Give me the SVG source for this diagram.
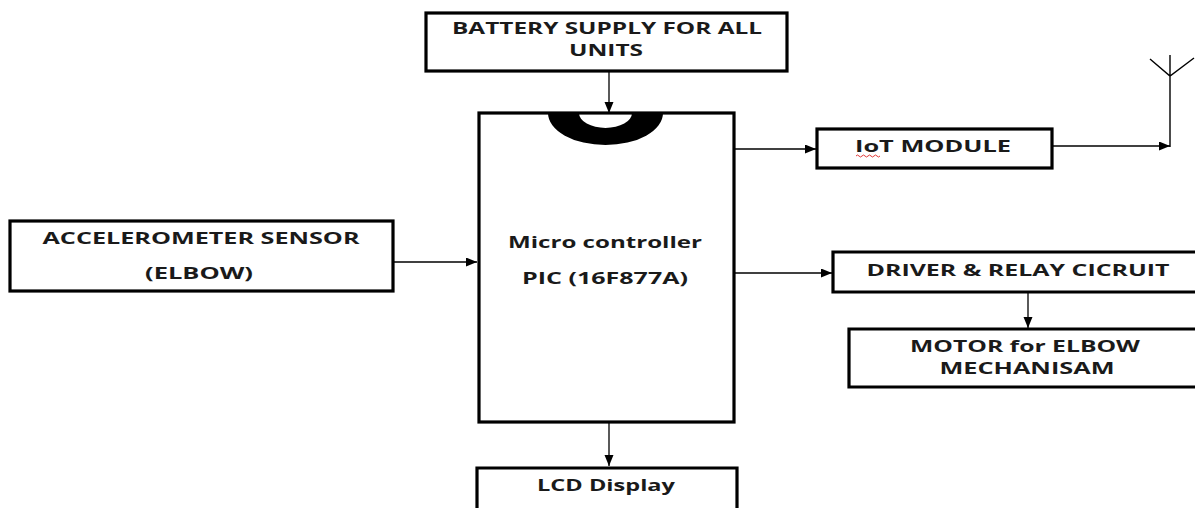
<svg xmlns="http://www.w3.org/2000/svg" width="1195" height="508" viewBox="0 0 1195 508">
<style>
.box{fill:#fff;stroke:#000;stroke-width:3.2}
.lbl{font-family:"Open Sans","Liberation Sans",sans-serif;font-weight:bold;font-size:16.5px;fill:#1a1a1a;text-anchor:middle}
.sm{font-size:15.5px}
.con{fill:none;stroke:#000;stroke-width:1.3}
</style>
<defs>
<marker id="ah" markerUnits="userSpaceOnUse" markerWidth="12" markerHeight="10" refX="11" refY="4.5" orient="auto">
<path d="M0,0 L11,4.5 L0,9 Z" fill="#000"/>
</marker>
</defs>
<rect width="1195" height="508" fill="#fff"/>
<g id="battery">
<rect class="box" x="426" y="13" width="361" height="58"/>
<text class="lbl" x="607" y="34" textLength="310" lengthAdjust="spacingAndGlyphs">BATTERY SUPPLY FOR ALL</text>
<text class="lbl" x="606" y="56" textLength="74" lengthAdjust="spacingAndGlyphs">UNITS</text>
</g>
<g id="mcu">
<rect class="box" x="479" y="113" width="255" height="309"/>
<path d="M548,113 A57.5,32 0 0 0 663,113 L632,113 A26.5,15 0 0 1 579,113 Z" fill="#000"/>
<text class="lbl" x="605" y="248" textLength="194" lengthAdjust="spacingAndGlyphs">Micro controller</text>
<text class="lbl" x="605" y="284" textLength="166" lengthAdjust="spacingAndGlyphs">PIC (16F877A)</text>
</g>
<g id="accel">
<rect class="box" x="10" y="221" width="383" height="70"/>
<text class="lbl" x="201" y="244" textLength="317" lengthAdjust="spacingAndGlyphs">ACCELEROMETER SENSOR</text>
<text class="lbl" x="199" y="279" textLength="108" lengthAdjust="spacingAndGlyphs">(ELBOW)</text>
</g>
<g id="iot">
<rect class="box" x="817" y="129" width="235" height="39"/>
<text class="lbl" x="933" y="152" textLength="156" lengthAdjust="spacingAndGlyphs">IoT MODULE</text>
<path d="M856,156 q1.5,-2 3,0 t3,0 t3,0 t3,0 t3,0 t3,0 t3,0 t3,0" fill="none" stroke="#d22" stroke-width="0.9"/>
</g>
<g id="antenna">
<path d="M1170,55 L1170,147 M1150,59 L1170,76 L1194,58" fill="none" stroke="#000" stroke-width="1.4"/>
</g>
<g id="driver">
<path class="box" d="M1197,252 L833,252 L833,292 L1197,292"/>
<text class="lbl" x="1018" y="276" textLength="303" lengthAdjust="spacingAndGlyphs">DRIVER &amp; RELAY CICRUIT</text>
</g>
<g id="motor">
<path class="box" d="M1197,329 L849,329 L849,387 L1197,387"/>
<text class="lbl sm" x="1025" y="352" textLength="230" lengthAdjust="spacingAndGlyphs">MOTOR for ELBOW</text>
<text class="lbl sm" x="1027" y="374" textLength="175" lengthAdjust="spacingAndGlyphs">MECHANISAM</text>
</g>
<g id="lcd">
<path class="box" d="M477,510 L477,468 L737,468 L737,510"/>
<text class="lbl" x="606" y="491" textLength="138" lengthAdjust="spacingAndGlyphs">LCD Display</text>
</g>
<g id="connectors">
<line class="con" x1="609" y1="71" x2="609" y2="113" marker-end="url(#ah)"/>
<line class="con" x1="735" y1="149" x2="816" y2="149" marker-end="url(#ah)"/>
<line class="con" x1="1052" y1="146" x2="1170" y2="146" marker-end="url(#ah)"/>
<line class="con" x1="393" y1="262" x2="477" y2="262" marker-end="url(#ah)"/>
<line class="con" x1="735" y1="273" x2="832" y2="273" marker-end="url(#ah)"/>
<line class="con" x1="1028" y1="292" x2="1028" y2="328" marker-end="url(#ah)"/>
<line class="con" x1="609" y1="422" x2="609" y2="466" marker-end="url(#ah)"/>
</g>
</svg>
